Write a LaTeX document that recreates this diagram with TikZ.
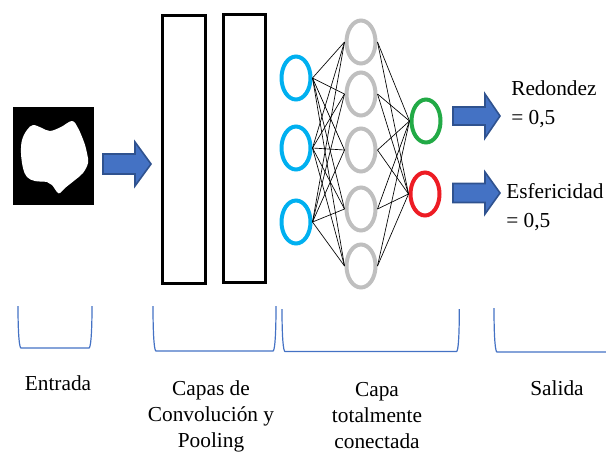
\documentclass[tikz,border=0pt]{standalone}
\usepackage{fontspec}
\setmainfont{Liberation Serif}
\usetikzlibrary{shapes.geometric,positioning}

\definecolor{azulcirculo}{RGB}{0,176,240}
\definecolor{griscirculo}{RGB}{191,191,191}
\definecolor{verdecirculo}{RGB}{34,170,70}
\definecolor{rojocirculo}{RGB}{237,28,36}
\definecolor{azulflecha}{RGB}{68,114,196}
\definecolor{bordeflecha}{RGB}{47,82,143}

\begin{document}
\begin{tikzpicture}
    [x=0.75pt,y=-0.75pt,
    neurona/.style={ellipse,draw,line width=3pt,inner sep=0pt,
    minimum width=21.75pt,minimum height=32.25pt},
    capa/.style={rectangle,draw=black,line width=2.25pt,inner sep=0pt,
    minimum width=32pt,minimum height=201pt},
    flecha/.style={fill=azulflecha,draw=bordeflecha,line width=1.2pt,line join=miter},
    llave/.style={draw=azulflecha,line width=0.9pt},
    conexion/.style={black,line width=0.5pt},
    etiqueta/.style={font=\fontsize{16}{19.5}\selectfont,align=center,inner sep=0pt},
    resultado/.style={font=\fontsize{16}{21.5}\selectfont,align=left,inner sep=0pt}]
    \useasboundingbox (0,0) rectangle (606,455);

    % imagen de entrada
    \fill[black] (13,107) rectangle (94,205);
    \fill[white] plot[smooth cycle,tension=0.6] coordinates {
        (27,130) (33,125) (42,128) (50,131) (61,127) (72,121) (78,128)
        (84,142) (87,153) (88,163) (83,173) (75,180) (65,188) (60,193)
        (57,192) (52,185) (47,182) (35,181) (27,177) (23,168) (21,153) (22,140)};
    \filldraw[flecha] (103,154) -- (135,154) -- (135,142) -- (151,164)
        -- (135,186) -- (135,174) -- (103,174) -- cycle;

    % capas de convolucion y pooling
    \node[capa] (conv1) at (184,149.5) {};
    \node[capa] (conv2) at (244.5,148.5) {};

    % capa totalmente conectada
    \node[neurona,draw=azulcirculo] (e1) at (296,78) {};
    \node[neurona,draw=azulcirculo] (e2) at (296,148) {};
    \node[neurona,draw=azulcirculo] (e3) at (296,222) {};
    \node[neurona,draw=griscirculo] (o1) at (361,42) {};
    \node[neurona,draw=griscirculo] (o2) at (361,94) {};
    \node[neurona,draw=griscirculo] (o3) at (361,150) {};
    \node[neurona,draw=griscirculo] (o4) at (361,209) {};
    \node[neurona,draw=griscirculo] (o5) at (361,266) {};
    \node[neurona,draw=verdecirculo] (s1) at (426,121) {};
    \node[neurona,draw=rojocirculo] (s2) at (425,194) {};
    \foreach \i in {1,2,3}
        \foreach \j in {1,...,5}
            \draw[conexion] (e\i.east) -- (o\j.west);
    \foreach \j in {1,...,5}
        \foreach \k in {1,2}
            \draw[conexion] (o\j.east) -- (s\k.west);

    % salida
    \filldraw[flecha] (453,107) -- (485,107) -- (485,94) -- (500,116)
        -- (485,138) -- (485,125) -- (453,125) -- cycle;
    \filldraw[flecha] (453,183.5) -- (485,183.5) -- (485,172) -- (500,193)
        -- (485,214) -- (485,202.5) -- (453,202.5) -- cycle;
    \node[resultado,anchor=north west] (redondez) at (511,80.9) {Redondez\\= 0,5};
    \node[resultado,anchor=north west] (esfericidad) at (506,183.4) {Esfericidad\\= 0,5};

    % llaves
    \draw[llave] (18,306) .. controls (18,336) and (19.5,348) .. (21,348)
        -- (89,348) .. controls (90.5,348) and (92,336) .. (92,306);
    \draw[llave] (153,306) .. controls (153,339) and (154.5,351) .. (156,351)
        -- (273,351) .. controls (274.5,351) and (276,339) .. (276,306);
    \draw[llave] (282,309) .. controls (282,340) and (283.5,351.5) .. (285,351.5)
        -- (456.5,351.5) .. controls (458,351.5) and (459.3,340) .. (459.3,309);
    \draw[llave] (494,308) .. controls (494,341) and (495.5,352) .. (497,352) -- (606,352);

    % etiquetas
    \node[etiqueta,anchor=base] (entrada) at (58,390) {Entrada};
    \node[etiqueta,anchor=north] (convolucion) at (211,380.4) {Capas de\\Convolución y\\Pooling};
    \node[etiqueta,anchor=north] (conectada) at (377,381.6) {Capa\\totalmente\\conectada};
    \node[etiqueta,anchor=base] (salida) at (557,395) {Salida};
\end{tikzpicture}
\end{document}
